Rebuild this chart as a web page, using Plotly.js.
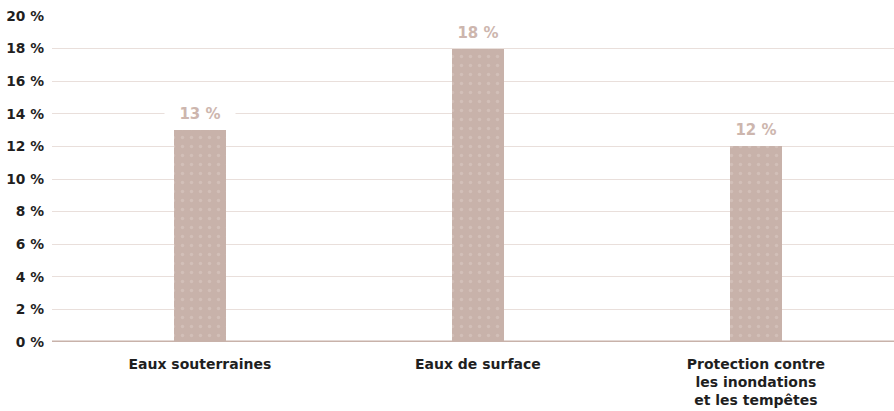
<!DOCTYPE html>
<html><head><meta charset="utf-8">
<script src="https://cdn.plot.ly/plotly-3.0.1.min.js"></script>
<style>html,body{margin:0;padding:0;background:#fff}#chart{width:894px;height:411px}</style>
</head><body><div id="chart"></div>
<script>
var categories = ["Eaux souterraines", "Eaux de surface", "Protection contre<br>les inondations<br>et les tempêtes"];
var values = [13, 18, 12];
var valueLabels = ["13 %", "18 %", "12 %"];
var yTickVals = [0, 2, 4, 6, 8, 10, 12, 14, 16, 18, 20];
var yTickText = ["0 %", "2 %", "4 %", "6 %", "8 %", "10 %", "12 %", "14 %", "16 %", "18 %", "20 %"];

var barColor = "#c8b2aa";
var font = "'DejaVu Sans', Inter, sans-serif";

var trace = {
  type: "bar",
  x: [0, 1, 2],
  y: values,
  width: 0.187,
  marker: {
    color: barColor,
    line: {width: 0},
    pattern: {shape: ".", fgcolor: "#d2bfb8", bgcolor: barColor, size: 9, solidity: 0.12, fillmode: "replace"}
  },
  hoverinfo: "none"
};

var annotations = values.map(function (v, i) {
  return {
    x: i, y: v, yref: "y", xref: "x",
    text: valueLabels[i],
    showarrow: false,
    yanchor: "bottom",
    yshift: 5,
    bgcolor: "#ffffff",
    width: 68,
    font: {family: font, size: 15, color: "#cdb6ae", weight: 700}
  };
});

var layout = {
  width: 894, height: 411,
  margin: {l: 52, r: 0, t: 16, b: 69},
  paper_bgcolor: "#fff", plot_bgcolor: "#fff",
  showlegend: false,
  bargap: 0,
  xaxis: {
    range: [-0.532, 2.497],
    tickvals: [0, 1, 2],
    ticktext: categories,
    showgrid: false, zeroline: false, showline: false,
    ticks: "", ticklabelstandoff: 12,
    tickfont: {family: font, size: 14, color: "#1f1f1f", weight: 700},
    fixedrange: true
  },
  yaxis: {
    range: [0, 20],
    tickvals: yTickVals,
    ticktext: yTickText,
    showgrid: true, gridcolor: "#e9dfdb", gridwidth: 1,
    zeroline: false, showline: false,
    ticks: "", ticklabelstandoff: 7,
    tickfont: {family: font, size: 13.8, color: "#1f1f1f", weight: 700},
    fixedrange: true
  },
  shapes: [{
    type: "line", xref: "paper", yref: "y", x0: 0, x1: 1, y0: 0, y1: 0,
    line: {color: barColor, width: 3}, layer: "above"
  }],
  annotations: annotations
};

Plotly.newPlot("chart", [trace], layout, {displayModeBar: false, staticPlot: true});
</script>
</body></html>
